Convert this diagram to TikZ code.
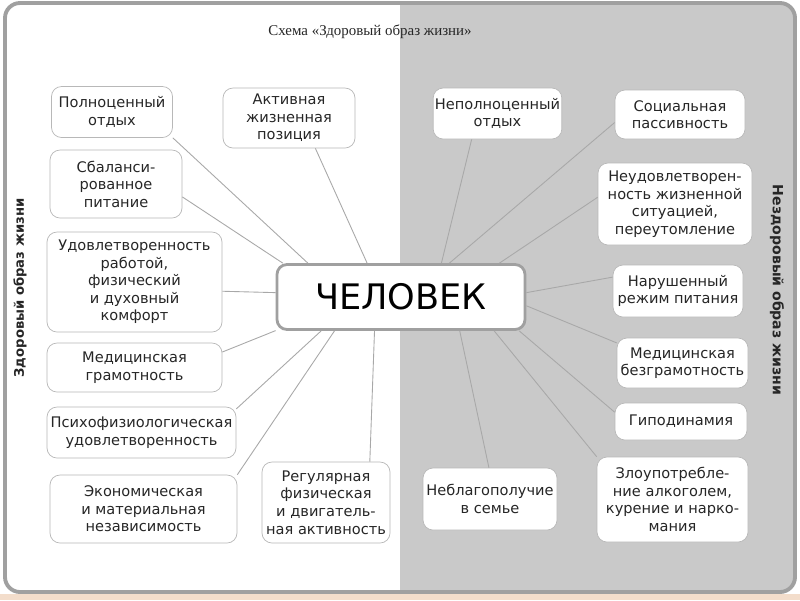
\documentclass[tikz,border=0pt]{standalone}
\usepackage{fontspec}
\setmainfont{DejaVu Sans}
\newfontfamily\titlefont{Liberation Serif}
\definecolor{framegray}{HTML}{A0A0A0}
\definecolor{panelgray}{HTML}{C9C9C9}
\definecolor{linegray}{HTML}{A8A8A8}
\definecolor{boxline}{HTML}{B8B8B8}
\definecolor{peach}{HTML}{F3DDCB}

\begin{document}
\begin{tikzpicture}[x=0.02cm, y=-0.02cm,
  every node/.style={font=\fontsize{8.3}{10}\selectfont, text=black!85},
  item/.style 2 args={draw=boxline, fill=white, rounded corners=0.2cm, align=center,
    minimum width=#1*0.02cm, minimum height=#2*0.02cm, inner sep=1pt},
  link/.style={draw=linegray, line width=0.5pt}]
% page and frame
\fill[peach] (0,594) rectangle (800,600);
\fill[white] (0,0) rectangle (800,594);
\begin{scope}
\path[clip, rounded corners=0.3cm] (5,3) rectangle (795,592);
\fill[panelgray] (400,0) rectangle (800,600);
\end{scope}
\draw[framegray, line width=2.2pt, rounded corners=0.3cm] (5,3) rectangle (795,592);

\node[font=\titlefont\fontsize{8.5}{10}\selectfont] (title) at (370,32) {Схема «Здоровый образ жизни»};
\node[rotate=90, font=\bfseries\fontsize{7.5}{9}\selectfont] (healthy) at (20,288) {Здоровый образ жизни};
\node[rotate=-90, font=\bfseries\fontsize{8}{9}\selectfont] (unhealthy) at (777,290) {Нездоровый образ жизни};

% centre
\node[draw=framegray, line width=1.6pt, fill=white, rounded corners=0.2cm,
  minimum width=248*0.02cm, minimum height=65*0.02cm,
  font=\fontsize{20}{24}\selectfont, text=black] (man) at (401,297) {ЧЕЛОВЕК};

% healthy side
\node[item={121}{51}] (rest) at (112,112) {Полноценный\\отдых};
\node[item={132}{60}] (active) at (289,118) {Активная\\жизненная\\позиция};
\node[item={132}{68}] (diet) at (116,184) {Сбаланси-\\рованное\\питание};
\node[item={175}{100}] (comfort) at (134.5,282) {Удовлетворенность\\работой,\\физический\\и духовный\\комфорт};
\node[item={175}{49}] (medok) at (134.5,367.5) {Медицинская\\грамотность};
\node[item={189}{51}] (psych) at (141.5,432.5) {Психофизиологическая\\удовлетворенность};
\node[item={187}{68}] (econ) at (143.5,509) {Экономическая\\и материальная\\независимость};
\node[item={128}{81}] (sport) at (326,502.5) {Регулярная\\физическая\\и двигатель-\\ная активность};

% unhealthy side
\node[item={121}{51}] (badrest) at (497.5,113.5) {Неполноценный\\отдых};
\node[item={130}{49}] (passive) at (680,114.5) {Социальная\\пассивность};
\node[item={154}{82}] (stress) at (675,204) {Неудовлетворен-\\ность жизненной\\ситуацией,\\переутомление};
\node[item={130}{52}] (baddiet) at (678,291) {Нарушенный\\режим питания};
\node[item={131}{50}] (medbad) at (682.5,363) {Медицинская\\безграмотность};
\node[item={132}{37}] (hypo) at (681,421.5) {Гиподинамия};
\node[item={134}{62}] (family) at (490,499) {Неблагополучие\\в семье};
\node[item={151}{85}] (habits) at (672.5,499.5) {Злоупотребле-\\ние алкоголем,\\курение и нарко-\\мания};

% connectors
\foreach \a/\b in {rest.south east/man.160, diet.-11/man.164, active.-49/man.135,
  comfort.-6/man.178, medok.10/man.195, psych.14/man.203, econ.north east/man.207,
  sport.43/man.232, badrest.-135/man.40, passive.187/man.35, stress.175/man.19,
  baddiet.168/man.2, medbad.163/man.-4.5, hypo.172/man.-16, habits.north west/man.-20,
  family.92/man.-30.5}
  \draw[link] (\a) -- (\b);
\end{tikzpicture}
\end{document}
